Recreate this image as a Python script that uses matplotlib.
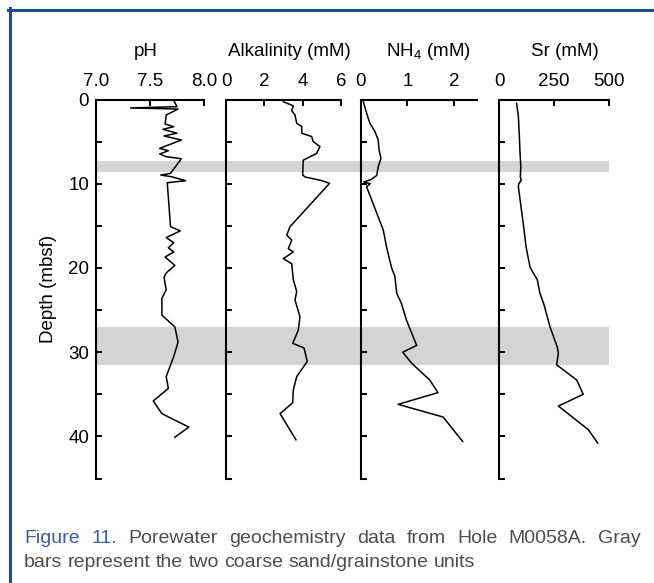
import matplotlib
matplotlib.use("Agg")
import matplotlib.pyplot as plt
from matplotlib.lines import Line2D

plt.rcParams['font.family'] = ['Liberation Sans', 'DejaVu Sans']
plt.rcParams['mathtext.default'] = 'regular'

# profiles (depth in mbsf)
ph_depth = [0.1, 0.85, 1.0, 1.13, 1.84, 2.91, 3.23, 3.54, 4.0, 4.33, 4.81, 5.8, 6.08, 6.47, 6.79, 7.03,
            8.77, 8.97, 9.17, 9.64, 9.88, 15.1, 15.6, 16.4, 17.0, 17.6, 18.1, 18.7, 19.7, 20.6, 21.1,
            22.6, 23.6, 25.6, 27.0, 28.8, 30.5, 32.9, 34.3, 35.8, 37.3, 38.9, 40.1]
ph_value = [7.72, 7.75, 7.32, 7.76, 7.65, 7.64, 7.72, 7.62, 7.75, 7.63, 7.79, 7.59, 7.67, 7.59, 7.65, 7.79,
            7.69, 7.60, 7.70, 7.83, 7.66, 7.69, 7.78, 7.65, 7.72, 7.67, 7.72, 7.64, 7.73, 7.65, 7.63,
            7.65, 7.61, 7.61, 7.73, 7.76, 7.72, 7.65, 7.67, 7.53, 7.61, 7.86, 7.73]

alk_depth = [0.26, 0.75, 1.33, 1.85, 2.83, 3.2, 4.0, 4.4, 5.0, 5.6, 6.4, 6.8, 7.2, 8.97, 9.2, 9.6, 9.96,
             15.1, 16.1, 16.7, 17.7, 18.1, 18.9, 19.5, 21.4, 22.8, 23.8, 25.8, 27.4, 28.95, 29.5, 31.1,
             32.9, 34.5, 36.0, 37.3, 40.4]
alk_value = [2.99, 3.51, 3.43, 3.60, 3.69, 3.95, 3.95, 4.47, 4.55, 4.90, 4.73, 4.38, 4.03, 4.00, 4.12, 4.95, 5.40,
             3.34, 3.17, 3.43, 3.25, 3.51, 2.99, 3.43, 3.51, 3.69, 3.60, 3.86, 3.77, 3.48, 4.07, 4.24,
             3.69, 3.51, 3.48, 2.82, 3.65]

nh4_depth = [0.26, 1.6, 2.8, 3.8, 4.8, 6.0, 7.0, 8.0, 9.0, 9.5, 9.8, 10.0, 10.35, 15.5, 17.5, 19.1, 20.0,
             21.0, 23.0, 24.2, 26.2, 29.2, 30.0, 31.3, 33.3, 34.8, 36.2, 37.7, 40.6]
nh4_value = [0.05, 0.12, 0.19, 0.30, 0.37, 0.39, 0.43, 0.37, 0.34, 0.22, 0.06, 0.20, 0.12, 0.48, 0.55, 0.62, 0.66,
             0.73, 0.77, 0.87, 0.98, 1.20, 0.90, 1.09, 1.48, 1.66, 0.80, 1.77, 2.19]

sr_depth = [0.45, 2.0, 4.0, 6.0, 8.0, 9.2, 9.6, 10.0, 10.35, 15.5, 17.5, 19.9, 20.6, 21.4, 23.0, 24.4,
            27.0, 29.4, 30.1, 31.5, 33.3, 35.0, 36.4, 39.2, 40.8]
sr_value = [80, 88, 92, 95, 99, 97, 101, 90, 88, 114, 123, 141, 156, 174, 186, 205,
            232, 265, 270, 262, 353, 383, 270, 406, 449]

sand_units = [(7.3, 8.55), (27.0, 31.5)]

titles = ['pH', 'Alkalinity (mM)', 'NH$_4$ (mM)', 'Sr (mM)']
xlims = [(7.0, 8.0), (0, 6), (0, 2.5), (0, 500)]
xticks = [[7.0, 7.5, 8.0], [0, 2, 4, 6], [0, 1, 2], [0, 250, 500]]
xticklabels = [['7.0', '7.5', '8.0'], ['0', '2', '4', '6'], ['0', '1', '2'], ['0', '250', '500']]
depth_ticks = list(range(0, 50, 5))

W, H = 654, 583
fig = plt.figure(figsize=(W / 100, H / 100), dpi=100)

# axes boxes in pixels (left, right)
boxes = [(96, 204), (226, 341), (361, 477), (499, 609)]
top_px, bot_px = 99.5, 478.5
y0 = 1 - bot_px / H
hh = (bot_px - top_px) / H

# gray bars behind all panels
bg = fig.add_axes([96 / W, y0, (609 - 96) / W, hh], zorder=0)
bg.set_ylim(45, 0)
bg.axis('off')
for a, b in sand_units:
    bg.axhspan(a, b, color='#d3d4d6', lw=0)

data = [(ph_value, ph_depth), (alk_value, alk_depth), (nh4_value, nh4_depth), (sr_value, sr_depth)]
title_x = [146, 289.5, 428, 564.5]

for i, (l, r) in enumerate(boxes):
    ax = fig.add_axes([l / W, y0, (r - l) / W, hh], zorder=1)
    ax.set_facecolor('none')
    x, d = data[i]
    ax.plot(x, d, color='black', lw=1.1)
    ax.set_xlim(xlims[i])
    ax.set_ylim(45, 0)
    for s in ['right', 'bottom']:
        ax.spines[s].set_visible(False)
    for s in ['top', 'left']:
        ax.spines[s].set_linewidth(1.5)
    ax.xaxis.tick_top()
    ax.set_xticks(xticks[i])
    ax.set_xticklabels(xticklabels[i])
    ax.set_yticks(depth_ticks)
    if i == 0:
        ax.set_yticklabels(['0', '', '10', '', '20', '', '30', '', '40', ''])
        ax.set_ylabel('Depth (mbsf)', fontsize=13.5, labelpad=8)
    else:
        ax.set_yticklabels([])
    ax.tick_params(direction='in', length=4, width=1.4, labelsize=13.5)
    ax.tick_params(axis='x', pad=7)
    ax.tick_params(axis='y', pad=5)
    fig.text(title_x[i] / W, 1 - 56 / H, titles[i], ha='center', va='baseline', fontsize=13.5)

# frame lines of the figure box
blue = '#1f4a96'
fig.add_artist(Line2D([8 / W, 1], [1 - 9.5 / H] * 2, color=blue, lw=2.2))
fig.add_artist(Line2D([9.5 / W] * 2, [0, 1 - 8 / H], color=blue, lw=2.2))

# caption, justified like the original
renderer = fig.canvas.get_renderer()
cap_size = 14


def justified_line(words, colors, x0, x1, base, justify=True):
    texts = [fig.text(0, 1 - base / H, w, color=c, fontsize=cap_size, va='baseline')
             for w, c in zip(words, colors)]
    widths = [t.get_window_extent(renderer).width for t in texts]
    space = 0.278 * cap_size * 100 / 72
    gap = (x1 - x0 - sum(widths)) / (len(words) - 1) if justify else space
    pos = x0
    for t, w in zip(texts, widths):
        t.set_x(pos / W)
        pos += w + gap


gray = '#4d4d4d'
line1 = ['Figure', '11.', 'Porewater', 'geochemistry', 'data', 'from', 'Hole', 'M0058A.', 'Gray']
col1 = ['#3b5ca6', '#3b5ca6'] + [gray] * 7
justified_line(line1, col1, 24, 641, 543)
line2 = ['bars', 'represent', 'the', 'two', 'coarse', 'sand/grainstone', 'units']
justified_line(line2, [gray] * len(line2), 24, 641, 567, justify=False)

fig.savefig('out.png', dpi=100)
